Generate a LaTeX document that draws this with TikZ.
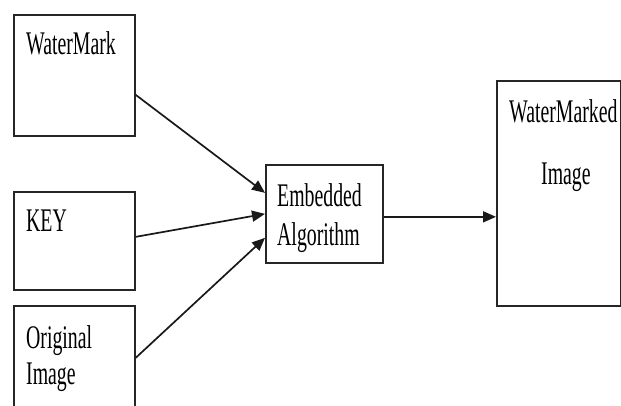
\documentclass[tikz,border=0pt]{standalone}
\usepackage{fontspec}
\newfontfamily\lblfont[FakeStretch=0.6]{Liberation Serif}
\usetikzlibrary{arrows.meta}
\begin{document}
\begin{tikzpicture}[x=1pt,y=-1pt,
  box/.style={draw=black!85, line width=1.7pt, rectangle, inner sep=0pt, anchor=north west},
  lbl/.style={font=\lblfont\fontsize{33}{37}\selectfont, inner sep=0pt, anchor=base west, text=black},
  arr/.style={draw=black!90, line width=1.7pt, -{Triangle[length=13pt,width=11pt]}}]
\useasboundingbox (0,0) rectangle (621,406);
\clip (0,0) rectangle (621,406);
% boxes
\node[box, minimum width=121pt, minimum height=121pt] (wm)   at (13,14)  {};
\node[box, minimum width=121pt, minimum height=98pt]  (key)  at (13,191) {};
\node[box, minimum width=121pt, minimum height=130pt] (orig) at (13,305) {};
\node[box, minimum width=117pt, minimum height=98pt]  (emb)  at (265,164) {};
\node[box, minimum width=124pt, minimum height=225pt] (wmi)  at (496,80) {};
% labels
\node[lbl] (twm)   at (26,55)   {WaterMark};
\node[lbl] (tkey)  at (26,232)  {KEY};
\node[lbl] (torig) at (26,348)  {Original};
\node[lbl] (timg)  at (26,384)  {Image};
\node[lbl] (temb)  at (277,207) {Embedded};
\node[lbl] (talg)  at (277,245) {Algorithm};
\node[lbl] (twmi)  at (509,123) {WaterMarked};
\node[lbl] (timg2) at (541,185) {Image};
% connectors
\draw[arr] ([yshift=-19.5pt]wm.east) -- ([yshift=21pt]emb.west);
\draw[arr] ([yshift=4pt]key.east) -- (emb.west);
\draw[arr] ([yshift=13pt]orig.east) -- ([yshift=-24pt]emb.west);
\draw[arr] ([yshift=-3pt]emb.east) -- ([yshift=-3pt]emb.east -| wmi.west);
\end{tikzpicture}
\end{document}
